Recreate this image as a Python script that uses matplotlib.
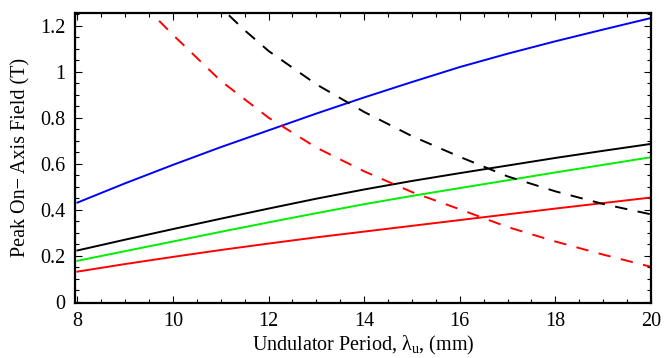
import matplotlib
matplotlib.use("Agg")
import matplotlib.pyplot as plt
from matplotlib.ticker import MultipleLocator, FuncFormatter

plt.rcParams['font.family'] = ['Liberation Serif', 'DejaVu Serif']
plt.rcParams['mathtext.fontset'] = 'custom'
plt.rcParams['mathtext.rm'] = 'Liberation Serif'
plt.rcParams['mathtext.it'] = 'Liberation Serif:italic'

# undulator period (mm)
periodo = [8, 9, 10, 11, 12, 13, 14, 15, 16, 17, 18, 19, 20]

# solid curves: peak field vs period
campo_azul = [0.431, 0.515, 0.595, 0.672, 0.745, 0.818, 0.888, 0.955, 1.02, 1.078, 1.132, 1.183, 1.233]
campo_negro = [0.223, 0.270, 0.316, 0.361, 0.405, 0.448, 0.488, 0.525, 0.559, 0.592, 0.625, 0.656, 0.686]
campo_verde = [0.178, 0.220, 0.262, 0.304, 0.345, 0.385, 0.424, 0.460, 0.494, 0.528, 0.562, 0.595, 0.628]
campo_rojo = [0.131, 0.164, 0.195, 0.225, 0.253, 0.280, 0.305, 0.330, 0.355, 0.380, 0.405, 0.429, 0.453]

# dashed curves (required field)
periodo_rojo_disc = [9.71, 10, 11, 12, 13, 14, 15, 16, 17, 18, 19, 20]
req_rojo = [1.221, 1.16, 0.96, 0.80, 0.67, 0.567, 0.477, 0.402, 0.325, 0.262, 0.205, 0.152]
periodo_negro_disc = [11.17, 11.5, 12, 13, 14, 15, 16, 17, 18, 19, 20]
req_negro = [1.245, 1.18, 1.09, 0.945, 0.825, 0.72, 0.63, 0.545, 0.48, 0.425, 0.38]

fig = plt.figure(figsize=(6.71, 3.58), dpi=100)
ax = fig.add_axes([0.1118, 0.1545, 0.8582, 0.8092])

lw = 1.4
ax.plot(periodo, campo_azul, color='#0000ff', lw=lw)
ax.plot(periodo, campo_negro, color='black', lw=lw)
ax.plot(periodo, campo_verde, color='#00ee00', lw=lw)
ax.plot(periodo, campo_rojo, color='#ff0000', lw=lw)
ax.plot(periodo_rojo_disc, req_rojo, color='#ff0000', lw=lw, dashes=(6.4, 5.4))
ax.plot(periodo_negro_disc, req_negro, color='black', lw=lw, dashes=(6.4, 5.4))

ax.set_xlim(7.95, 20.0)
ax.set_ylim(-0.004, 1.255)

ax.xaxis.set_major_locator(MultipleLocator(2))
ax.xaxis.set_minor_locator(MultipleLocator(0.5))
ax.yaxis.set_major_locator(MultipleLocator(0.2))
ax.yaxis.set_minor_locator(MultipleLocator(0.05))

def fmt_y(v, pos):
    s = f"{v:.1f}"
    if s.endswith(".0"):
        s = s[:-2]
    return s

ax.yaxis.set_major_formatter(FuncFormatter(fmt_y))

ax.tick_params(which='both', direction='in', top=True, right=True, labelsize=14.5, width=0.8)
ax.tick_params(which='major', length=5, pad=7)
ax.tick_params(which='minor', length=3)
for s in ax.spines.values():
    s.set_linewidth(1.6)

ax.set_xlabel("Undulator Period, λ$_{\\mathrm{u}}$, (mm)", fontsize=14.5, labelpad=2)
ax.set_ylabel("Peak On\u2212 Axis Field (T)", fontsize=14.5, labelpad=7)

fig.savefig("out.png", dpi=100)
